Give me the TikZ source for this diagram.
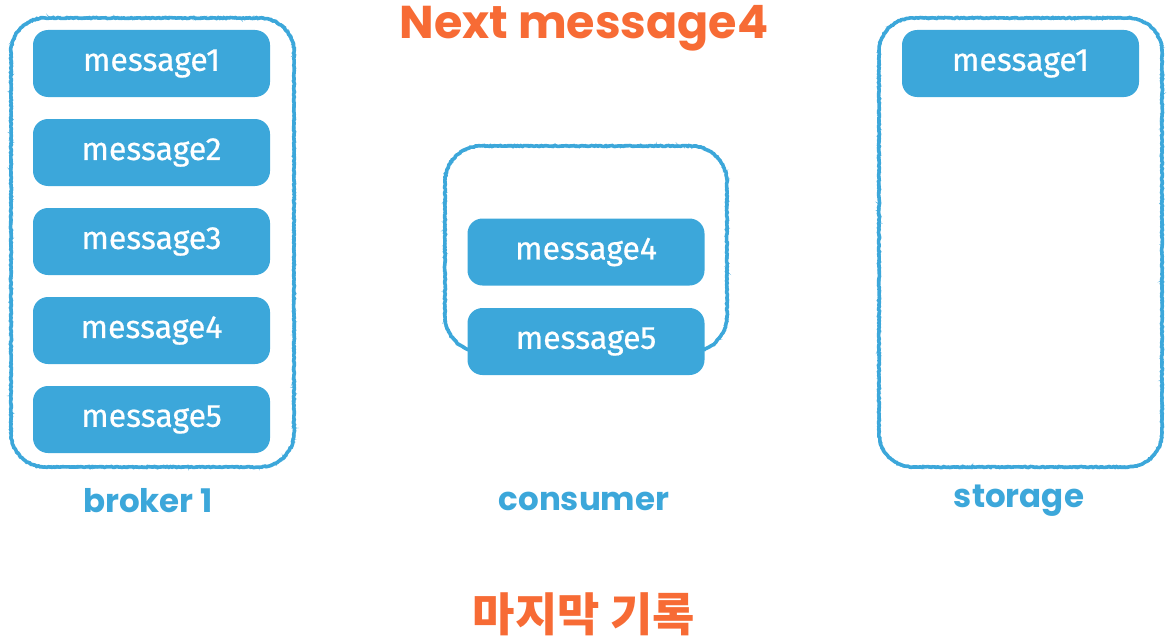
\documentclass[tikz,border=0pt]{standalone}
\usepackage{fontspec}
\setmainfont{Fira Sans}
\newfontfamily\msgfont{Fira Sans}[FakeBold=0.6]
\newfontfamily\labfont{Poppins}
\newfontfamily\krfont{Noto Sans CJK KR}
\usetikzlibrary{decorations.pathmorphing}
\definecolor{mblue}{HTML}{3CA7DA}
\definecolor{morange}{HTML}{F76B35}
\tikzset{
  msg/.style={fill=mblue, rounded corners=15pt, minimum width=237pt, minimum height=67pt, text=white, font=\msgfont\fontsize{32}{36}\selectfont, inner sep=0pt},
  sketch/.style={draw=mblue, line width=3.6pt,
    decorate, decoration={random steps, segment length=1.6pt, amplitude=0.5pt}},
  sketchthin/.style={draw=mblue!85, line width=0.9pt,
    decorate, decoration={random steps, segment length=1.1pt, amplitude=1.4pt}},
  lab/.style={text=mblue, font=\labfont\bfseries\fontsize{32.5}{36}\selectfont},
}
% #1 x1, #2 top, #3 x2, #4 bottom (pixel coords, y down), #5 radius, #6 style
\newcommand\sketchbox[6]{%
  \draw[#6] (#1+#5,-#2) -- (#3-#5,-#2) arc[start angle=90,end angle=0,radius=#5]
    -- (#3,-#4+#5) arc[start angle=0,end angle=-90,radius=#5]
    -- (#1+#5,-#4) arc[start angle=270,end angle=180,radius=#5]
    -- (#1,-#2-#5) arc[start angle=180,end angle=90,radius=#5] -- cycle;}
\begin{document}
\begin{tikzpicture}[x=1pt,y=1pt]
\useasboundingbox (0,0) rectangle (1172,-642);
% containers (hand-drawn)
\sketchbox{11}{18}{294}{467}{34}{sketchthin}
\sketchbox{11}{18}{294}{467}{34}{sketch}
\sketchbox{445}{146}{727}{352}{36}{sketchthin}
\sketchbox{445}{146}{727}{352}{36}{sketch}
\sketchbox{879}{18}{1162}{467}{34}{sketchthin}
\sketchbox{879}{18}{1162}{467}{34}{sketch}
% broker messages
\node[msg] (b1) at (151.5,-63.5) {message1};
\node[msg] (b2) at (151.5,-152.5) {message2};
\node[msg] (b3) at (151.5,-241.5) {message3};
\node[msg] (b4) at (151.5,-330.5) {message4};
\node[msg] (b5) at (151.5,-419.5) {message5};
% consumer messages
\node[msg] (c4) at (586,-252) {message4};
\node[msg] (c5) at (586,-341.5) {message5};
% storage
\node[msg] (s1) at (1020.5,-63.5) {message1};
% labels
\node[lab] (lb) at (148,-501) {broker 1};
\node[lab] (lc) at (584,-501) {consumer};
\node[lab] (ls) at (1019,-501) {storage};
\node[text=morange, font=\labfont\bfseries\fontsize{46}{50}\selectfont] (title) at (584,-28) {Next message4};
\node[text=morange, font=\krfont\bfseries\fontsize{46}{50}\selectfont] (kr) at (584,-614) {마지막 기록};
\end{tikzpicture}
\end{document}
